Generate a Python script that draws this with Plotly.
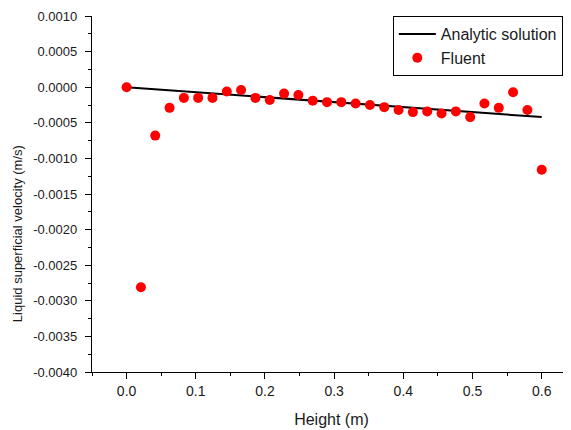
import plotly.graph_objects as go

# ---- data ----
height_m = [0.0, 0.0207, 0.0414, 0.0621, 0.0828, 0.1034, 0.1241, 0.1448, 0.1655, 0.1862,
            0.2069, 0.2276, 0.2483, 0.2690, 0.2897, 0.3103, 0.3310, 0.3517, 0.3724, 0.3931,
            0.4138, 0.4345, 0.4552, 0.4759, 0.4966, 0.5172, 0.5379, 0.5586, 0.5793, 0.6]
fluent_velocity = [0.0, -0.00281, -0.00068, -0.00029, -0.00015, -0.00015, -0.00015, -0.00006,
                   -0.00004, -0.00015, -0.00018, -0.00009, -0.00011, -0.00019, -0.00021,
                   -0.00021, -0.00023, -0.00025, -0.00028, -0.00032, -0.00035, -0.00034,
                   -0.00037, -0.00034, -0.00042, -0.00023, -0.00029, -0.00007, -0.00032,
                   -0.00116]
analytic_height = [0.0, 0.6]
analytic_velocity = [0.0, -0.00042]

y_tick_values = [0.001, 0.0005, 0.0, -0.0005, -0.001, -0.0015, -0.002, -0.0025,
                 -0.003, -0.0035, -0.004]
y_tick_labels = ["0.0010", "0.0005", "0.0000", "-0.0005", "-0.0010", "-0.0015",
                 "-0.0020", "-0.0025", "-0.0030", "-0.0035", "-0.0040"]
x_tick_values = [0.0, 0.1, 0.2, 0.3, 0.4, 0.5, 0.6]
x_tick_labels = ["0.0", "0.1", "0.2", "0.3", "0.4", "0.5", "0.6"]

FONT = "Liberation Sans, Arial, sans-serif"
TXT = "#1a1a1a"

fig = go.Figure()
fig.add_trace(go.Scatter(
    x=analytic_height, y=analytic_velocity, mode="lines", name="Analytic solution",
    line=dict(color="black", width=2)))
fig.add_trace(go.Scatter(
    x=height_m, y=fluent_velocity, mode="markers", name="Fluent",
    marker=dict(color="#ff0000", size=10, line=dict(width=0))))

# the page body adds an 8 px margin, so the figure is sized to fit the window
fig.update_layout(
    width=563, height=422,
    margin=dict(l=84, r=0, t=8, b=58, autoexpand=False),
    paper_bgcolor="white", plot_bgcolor="white",
    font=dict(family=FONT, color=TXT, size=13),
    showlegend=True,
    legend=dict(
        x=0.628, y=1.0, xanchor="left", yanchor="top",
        bgcolor="white", bordercolor="black", borderwidth=1,
        font=dict(family=FONT, size=16, color=TXT),
        tracegroupgap=0, itemwidth=37,
    ),
    annotations=[dict(
        text="Liquid superficial velocity (m/s)",
        xref="paper", yref="paper", x=-0.1566, y=0.39,
        xanchor="center", yanchor="middle", textangle=-90, showarrow=False,
        font=dict(family=FONT, size=13, color=TXT),
    )],
)

fig.update_xaxes(
    range=[-0.05, 0.6423],
    tickmode="array", tickvals=x_tick_values, ticktext=x_tick_labels,
    ticks="outside", ticklen=6, tickwidth=1.3, tickcolor="black",
    minor=dict(dtick=0.05, tick0=0, ticks="outside", ticklen=3, tickwidth=1.3, tickcolor="black"),
    showline=True, linecolor="black", linewidth=1.3,
    showgrid=False, zeroline=False,
    tickfont=dict(family=FONT, size=14, color=TXT),
    title=dict(text="Height (m)", font=dict(family=FONT, size=16, color=TXT), standoff=15),
)
fig.update_yaxes(
    range=[-0.004, 0.001],
    tickmode="array", tickvals=y_tick_values, ticktext=y_tick_labels,
    ticks="outside", ticklen=6, tickwidth=1.3, tickcolor="black",
    minor=dict(dtick=0.00025, tick0=0, ticks="outside", ticklen=3, tickwidth=1.3, tickcolor="black"),
    showline=True, linecolor="black", linewidth=1.3,
    showgrid=False, zeroline=False,
    ticklabelstandoff=5, ticklabeloverflow="allow",
    tickfont=dict(family=FONT, size=13, color=TXT),
)

fig.write_html("out.html")
